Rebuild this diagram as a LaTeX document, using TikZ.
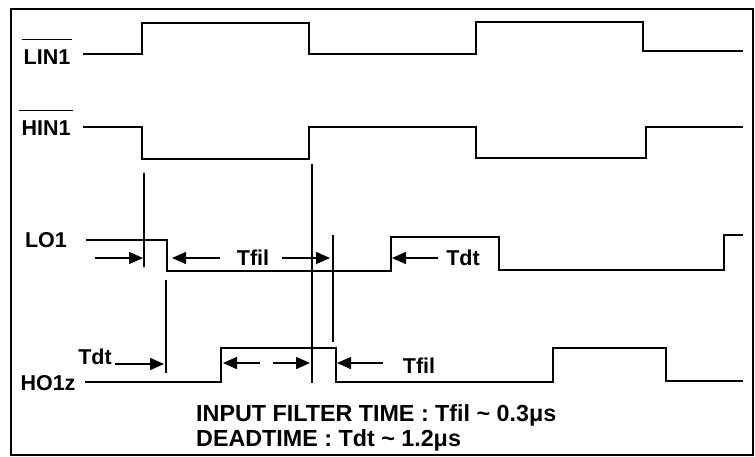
\documentclass[tikz,border=0pt]{standalone}
\usepackage{fontspec}
\setmainfont{Liberation Sans}
\usetikzlibrary{arrows.meta,positioning}

\tikzset{
  sig/.style={line width=1.5pt},
  guide/.style={line width=1.5pt},
  dimarrow/.style={line width=1.5pt,-{Triangle[length=14pt,width=12pt]}},
  lbl/.style={font=\fontsize{21.5}{24}\selectfont\bfseries,inner sep=2pt},
  note/.style={font=\fontsize{23.3}{27}\selectfont\bfseries,inner sep=0pt,anchor=west}
}

\begin{document}
\begin{tikzpicture}[x=1pt,y=-1pt]
\useasboundingbox (0,0) rectangle (755,456);
\draw[line width=2pt] (11,9) rectangle (753,455);

% signal names
\node[lbl] (lin1) at (47,57) {LIN1};
\node[lbl] (hin1) at (46,128) {HIN1};
\node[lbl] (lo1) at (46,240) {LO1};
\node[lbl] (ho1z) at (48,383) {HO1z};
\draw[line width=1.2pt] ([yshift=8pt]lin1.north west) -- ([yshift=8pt]lin1.north east);
\draw[line width=1.2pt] ([yshift=8pt]hin1.north west) -- ([yshift=8pt]hin1.north east);

% waveforms
\draw[sig] (83,54) -- (142,54) -- (142,23) -- (309,23) -- (309,54) -- (476,54)
  -- (476,22) -- (643,22) -- (643,51) -- (743,51);
\draw[sig] (83,127) -- (142,127) -- (142,159) -- (309,159) -- (309,127) -- (476,127)
  -- (476,158) -- (646,158) -- (646,127) -- (743,127);
\draw[sig] (86,240) -- (167,240) -- (167,271) -- (391,271) -- (391,237) -- (499,237)
  -- (499,270) -- (724,270) -- (724,235) -- (743,235);
\draw[sig] (85,382) -- (221,382) -- (221,348) -- (336,348) -- (336,382) -- (553,382)
  -- (553,348) -- (666,348) -- (666,381) -- (743,381);

% timing guides
\coordinate (g1t) at (144,173); \coordinate (g1b) at (144,267);
\coordinate (g2t) at (312,164); \coordinate (g2b) at (312,383);
\coordinate (g3t) at (333,235); \coordinate (g3b) at (333,342);
\coordinate (g4t) at (166,280); \coordinate (g4b) at (166,373);
\draw[guide] (g1t) -- (g1b);
\draw[guide] (g2t) -- (g2b);
\draw[guide] (g3t) -- (g3b);
\draw[guide] (g4t) -- (g4b);

% LO1 timings
\node[lbl] (tfil1) at (253,258) {Tfil};
\node[lbl] (tdt1) at (463,258) {Tdt};
\coordinate (a1s) at (95,258);  \coordinate (a1e) at (143,258);
\coordinate (a2s) at (220,258); \coordinate (a2e) at (172,258);
\coordinate (a3s) at (282,258); \coordinate (a3e) at (330,258);
\coordinate (a4s) at (438,258); \coordinate (a4e) at (392,258);
\draw[dimarrow] (a1s) -- (a1e);
\draw[dimarrow] (a2s) -- (a2e);
\draw[dimarrow] (a3s) -- (a3e);
\draw[dimarrow] (a4s) -- (a4e);

% HO1z timings
\node[lbl] (tdt2) at (95,357) {Tdt};
\node[lbl] (tfil2) at (419,366) {Tfil};
\coordinate (b1s) at (115,364); \coordinate (b1e) at (164,364);
\coordinate (b2s) at (260,363); \coordinate (b2e) at (223,363);
\coordinate (b3s) at (273,363); \coordinate (b3e) at (310,363);
\coordinate (b4s) at (383,363); \coordinate (b4e) at (337,363);
\draw[dimarrow] (b1s) -- (b1e);
\draw[dimarrow] (b2s) -- (b2e);
\draw[dimarrow] (b3s) -- (b3e);
\draw[dimarrow] (b4s) -- (b4e);

% notes
\node[note] (filt) at (196,415) {INPUT FILTER TIME : Tfil \textasciitilde{} 0.3μs};
\node[note, below=3pt of filt.south west, anchor=north west] (dead) {DEADTIME : Tdt \textasciitilde{} 1.2μs};
\end{tikzpicture}
\end{document}
